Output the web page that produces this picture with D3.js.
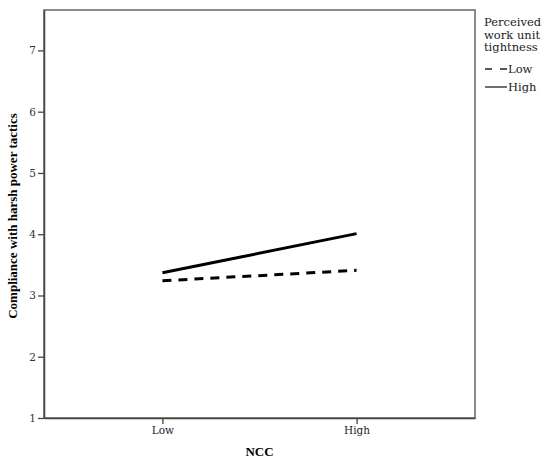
<!DOCTYPE html>
<html><head><meta charset="utf-8">
<script src="https://cdn.jsdelivr.net/npm/d3@7"></script>
<style>body{margin:0;background:#fff}svg{display:block}</style>
</head><body><svg id="c" width="550" height="466"></svg>
<script>
const categories = ["Low", "High"];
const seriesNames = ["Low", "High"];
const lowTightness = [3.24, 3.41];
const highTightness = [3.37, 4.01];
const yTicks = [1, 2, 3, 4, 5, 6, 7];
const legendTitle = ["Perceived", "work unit", "tightness"];

const svg = d3.select("#c");
const L = 44, R = 475, T = 10, B = 418;
const font = "'DejaVu Serif', 'Liberation Serif', serif";
const boldFont = "'Liberation Serif', 'DejaVu Serif', serif";
const x = d3.scalePoint().domain(categories).range([L, R]).padding(0.61);
const y = d3.scaleLinear().domain([1, 7.66]).range([B, T]);

svg.append("rect").attr("x", L).attr("y", T).attr("width", R - L).attr("height", B - T)
  .attr("fill", "none").attr("stroke", "#666").attr("stroke-width", 1.5);

const ya = svg.append("g").attr("transform", `translate(${L},0)`)
  .call(d3.axisLeft(y).tickValues(yTicks).tickFormat(d3.format("d")).tickSize(6).tickSizeOuter(0).tickPadding(2));
ya.select(".domain").attr("stroke", "#444").attr("stroke-width", 1.5);
ya.selectAll(".tick line").attr("stroke", "#444").attr("stroke-width", 1.3);
ya.selectAll("text").attr("font-family", font).attr("font-size", 10.5).attr("fill", "#333");

const xa = svg.append("g").attr("transform", `translate(0,${B})`)
  .call(d3.axisBottom(x).tickSize(6).tickSizeOuter(0).tickPadding(3));
xa.select(".domain").attr("stroke", "#444").attr("stroke-width", 1.5);
xa.selectAll(".tick line").attr("stroke", "#444").attr("stroke-width", 1.3);
xa.selectAll("text").attr("font-family", font).attr("font-size", 10.5).attr("fill", "#222");

svg.append("text").attr("x", (L + R) / 2).attr("y", 456).attr("text-anchor", "middle")
  .attr("font-family", boldFont).attr("font-weight", "bold").attr("font-size", 13).text("NCC");
svg.append("text").attr("transform", `translate(17,${(T + B) / 2 + 2}) rotate(-90)`)
  .attr("text-anchor", "middle").attr("font-family", boldFont).attr("font-weight", "bold")
  .attr("font-size", 13).text("Compliance with harsh power tactics");

const line = d3.line().x((d, i) => x(categories[i])).y(d => y(d));
const series = [lowTightness, highTightness];
const dashes = ["9,7", null];
series.forEach((s, k) => {
  svg.append("path").datum(s).attr("d", line).attr("fill", "none")
    .attr("stroke", "#000").attr("stroke-width", 3).attr("stroke-dasharray", dashes[k]);
});

const lg = svg.append("g");
legendTitle.forEach((t, i) => {
  lg.append("text").attr("x", 484).attr("y", 26 + i * 12.5).attr("font-family", font)
    .attr("font-size", 11.5).attr("fill", "#222").text(t);
});
seriesNames.forEach((n, i) => {
  const yy = 69 + i * 18;
  lg.append("line").attr("x1", 485).attr("x2", 507).attr("y1", yy).attr("y2", yy)
    .attr("stroke", "#222").attr("stroke-width", 1.3).attr("stroke-dasharray", dashes[i] ? "7,8" : null);
  lg.append("text").attr("x", 508).attr("y", yy + 4).attr("font-family", font)
    .attr("font-size", 11.5).attr("fill", "#222").text(n);
});
</script></body></html>
